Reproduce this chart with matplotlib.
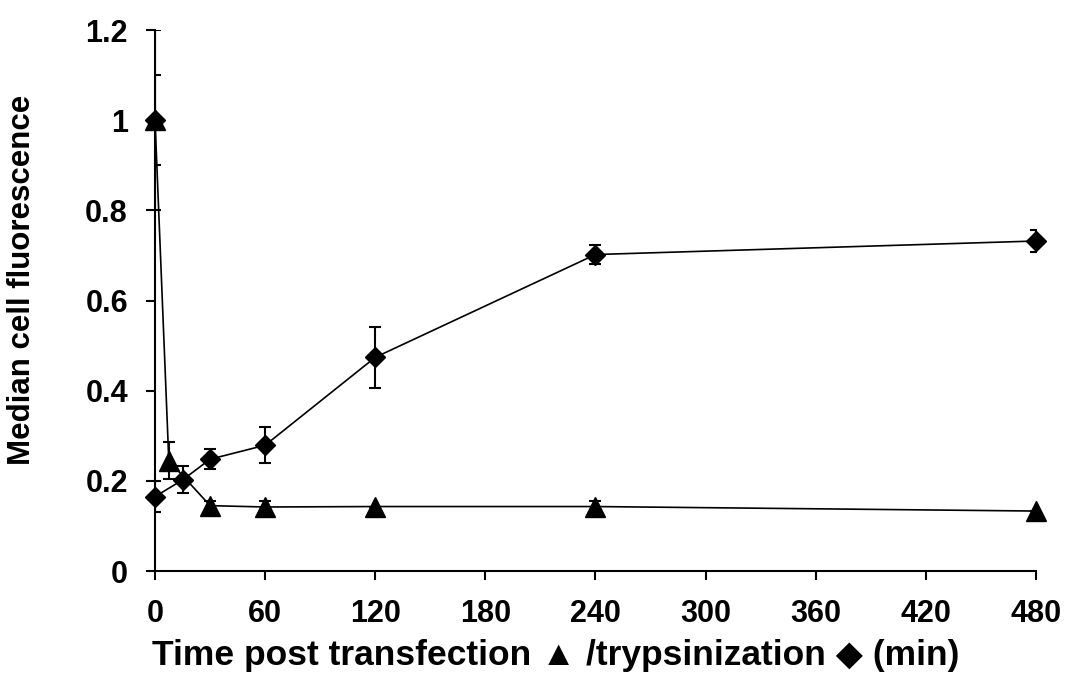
import numpy as np
import matplotlib.pyplot as plt

plt.rcParams['font.family'] = ['Liberation Sans', 'DejaVu Sans']
plt.rcParams['font.weight'] = 'bold'

# transfection series (triangles)
t_tri = [0, 7.5, 30, 60, 120, 240, 480]
y_tri = [1.0, 0.245, 0.145, 0.142, 0.143, 0.143, 0.133]
e_tri = [0.1, 0.042, 0.01, 0.013, 0.0, 0.012, 0.0]

# trypsinization series (diamonds)
t_dia = [0, 0, 15, 30, 60, 120, 240, 480]
y_dia = [1.0, 0.165, 0.202, 0.248, 0.279, 0.474, 0.702, 0.732]
e_dia = [0.2, 0.035, 0.03, 0.022, 0.04, 0.068, 0.022, 0.024]

xticks = [0, 60, 120, 180, 240, 300, 360, 420, 480]
yticks = [0, 0.2, 0.4, 0.6, 0.8, 1, 1.2]
ytick_labels = ['0', '0.2', '0.4', '0.6', '0.8', '1', '1.2']

fig = plt.figure(figsize=(10.67, 6.95), dpi=100)
ax = fig.add_axes([0.1453, 0.1784, 0.8256, 0.7784])

ax.errorbar(t_dia, y_dia, yerr=e_dia, fmt='none', ecolor='black',
            elinewidth=1.5, capsize=4.5, capthick=1.5, zorder=2)
ax.errorbar(t_tri, y_tri, yerr=e_tri, fmt='none', ecolor='black',
            elinewidth=1.5, capsize=4.5, capthick=1.5, zorder=2)

ax.plot(t_dia, y_dia, color='black', lw=1.2, marker='D', markersize=10,
        clip_on=False, zorder=3)
ax.plot(t_tri, y_tri, color='black', lw=1.2, marker='^', markersize=14,
        clip_on=False, zorder=3)

ax.set_xlim(0, 480)
ax.set_ylim(0, 1.2)
ax.set_xticks(xticks)
ax.set_yticks(yticks)
ax.set_yticklabels(ytick_labels)

for s in ['top', 'right']:
    ax.spines[s].set_visible(False)
for s in ['left', 'bottom']:
    ax.spines[s].set_linewidth(1.5)
    ax.spines[s].set_zorder(4)

ax.tick_params(direction='out', length=6.5, width=1.5, labelsize=22)
ax.tick_params(axis='x', pad=14)
ax.tick_params(axis='y', pad=13)

ax.set_xlabel('Time post transfection \u25B2 /trypsinization \u25C6 (min)',
              fontsize=25.5, fontweight='bold')
ax.set_ylabel('Median cell fluorescence', fontsize=22.5, fontweight='bold')
ax.xaxis.set_label_coords(0.455, -0.126)
ax.yaxis.set_label_coords(-0.134, 0.538)

fig.savefig('out.png', dpi=100)
